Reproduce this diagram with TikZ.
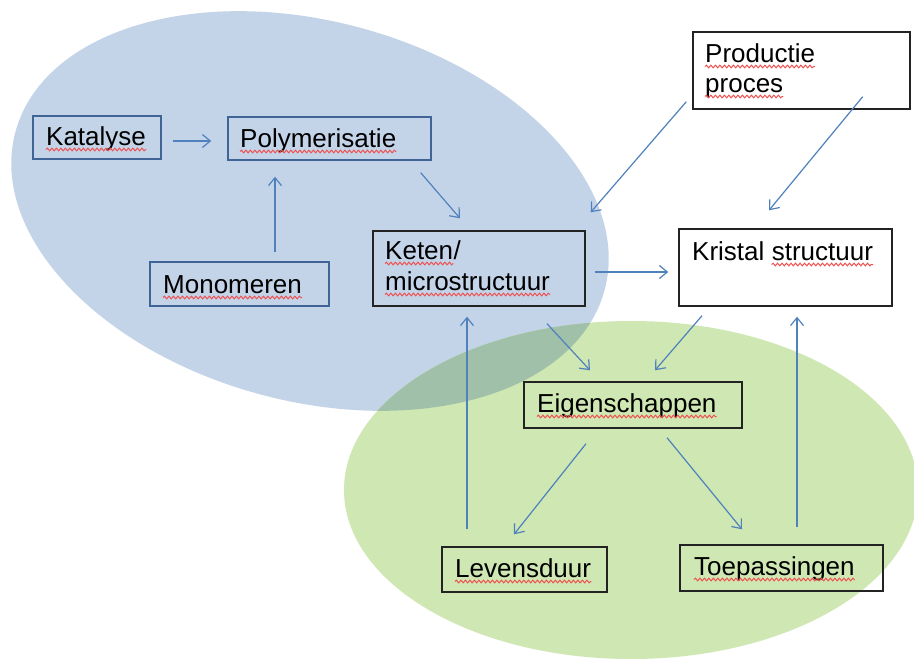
\documentclass[tikz,border=0pt]{standalone}
\usepackage{fontspec}
\setmainfont{Liberation Sans}
\usetikzlibrary{arrows.meta,calc,decorations.pathmorphing}
\definecolor{blueell}{RGB}{196,212,232}
\definecolor{greenell}{RGB}{207,231,178}
\definecolor{mixell}{RGB}{160,192,170}
\definecolor{arrowblue}{RGB}{79,129,189}
\definecolor{boxblue}{RGB}{65,100,150}
\definecolor{boxdark}{RGB}{35,35,35}
\definecolor{squigred}{RGB}{238,80,80}
\newcommand\squiggle[1]{\draw[squig] ($(#1.base west)+(0,4.5)$) -- ($(#1.base east)+(0,4.5)$);}
\begin{document}
\begin{tikzpicture}[x=1pt,y=-1pt,
  box/.style={draw=boxdark,line width=1.4pt,inner sep=0pt},
  bluebox/.style={box,draw=boxblue},
  lbl/.style={inner sep=0pt,anchor=base west,font=\fontsize{26}{31}\selectfont},
  arr/.style={draw=arrowblue,line width=1.2pt,-{Straight Barb[length=8pt,width=13pt]}},
  squig/.style={draw=squigred,line width=1pt,decorate,
    decoration={snake,segment length=4.5pt,amplitude=1.3pt}}]
\clip (0,0) rectangle (914,659);
\fill[white] (0,0) rectangle (914,659);

% two background regions and their overlap
\fill[blueell,rotate around={-15:(310,211)}] (310,211) ellipse [x radius=305pt,y radius=190pt];
\fill[greenell] (631,490) ellipse [x radius=287pt,y radius=169pt];
\begin{scope}
  \clip[rotate around={-15:(310,211)}] (310,211) ellipse [x radius=305pt,y radius=190pt];
  \fill[mixell] (631,490) ellipse [x radius=287pt,y radius=169pt];
\end{scope}

% boxes
\node[bluebox,minimum width=128pt,minimum height=43pt] (kat) at (97,137.5) {};
\node[bluebox,minimum width=203pt,minimum height=43pt] (poly) at (329.5,138.5) {};
\node[bluebox,minimum width=179pt,minimum height=44pt] (mono) at (239.5,284) {};
\node[box,minimum width=212pt,minimum height=75pt] (keten) at (479,268.5) {};
\node[box,minimum width=213pt,minimum height=77pt] (krist) at (785.5,267.5) {};
\node[box,minimum width=218pt,minimum height=46pt] (eig) at (633,405) {};
\node[box,minimum width=165pt,minimum height=45pt] (lev) at (524.5,569.5) {};
\node[box,minimum width=203pt,minimum height=46pt] (toep) at (781.5,568) {};
\node[box,minimum width=217pt,minimum height=77pt] (prod) at (801.5,70.5) {};

% labels
\node[lbl] (tkat) at (46,145) {Katalyse};
\node[lbl] (tpoly) at (240,147) {Polymerisatie};
\node[lbl] (tmono) at (163,293) {Monomeren};
\node[lbl] (tketen) at (385,259) {Keten};
\node[lbl] (tslash) at (tketen.base east) {/};
\node[lbl] (tmicro) at (385,290) {microstructuur};
\node[lbl] (tkris) at (692,260) {Kristal};
\node[lbl] (tstruc) at ($(tkris.base east)+(7,0)$) {structuur};
\node[lbl] (teig) at (537,412) {Eigenschappen};
\node[lbl] (tlev) at (455,577) {Levensduur};
\node[lbl] (ttoep) at (694,575) {Toepassingen};
\node[lbl] (tprod) at (705,62) {Productie};
\node[lbl] (tproc) at (705,92) {proces};

% spelling marks
\squiggle{tkat}
\squiggle{tpoly}
\squiggle{tmono}
\squiggle{tketen}
\squiggle{tmicro}
\squiggle{tstruc}
\squiggle{teig}
\squiggle{tlev}
\squiggle{ttoep}
\squiggle{tprod}
\squiggle{tproc}

% connectors
\draw[arr] ($(kat.east)+(11,3.5)$) -- ($(poly.west)+(-16,2.5)$);
\draw[arr] ($(mono.north)+(35.5,-9)$) -- ($(poly.south)+(-54.5,16)$);
\draw[arr] ($(poly.south east)+(-11,12)$) -- ($(keten.north)+(-19,-12)$);
\draw[arr] ($(prod.south west)+(-6,-8)$) -- ($(keten.north east)+(5,-18)$);
\draw[arr] ($(prod.south east)+(-48,-13)$) -- ($(krist.north)+(-16.5,-18)$);
\draw[arr] ($(keten.east)+(9,3.5)$) -- ($(krist.west)+(-10,4.5)$);
\draw[arr] ($(keten.south)+(68,17)$) -- ($(eig.north)+(-43,-11)$);
\draw[arr] ($(krist.south)+(-83.5,9)$) -- ($(eig.north)+(22,-11)$);
\draw[arr] ($(eig.south)+(-47,15)$) -- ($(lev.north)+(-10.5,-12)$);
\draw[arr] ($(eig.south)+(34,9)$) -- ($(toep.north)+(-39.5,-15)$);
\draw[arr] ($(lev.north)+(-57.5,-17)$) -- ($(keten.south)+(-12,10)$);
\draw[arr] ($(toep.north)+(15.5,-17)$) -- ($(krist.south)+(11.5,10)$);
\end{tikzpicture}
\end{document}
